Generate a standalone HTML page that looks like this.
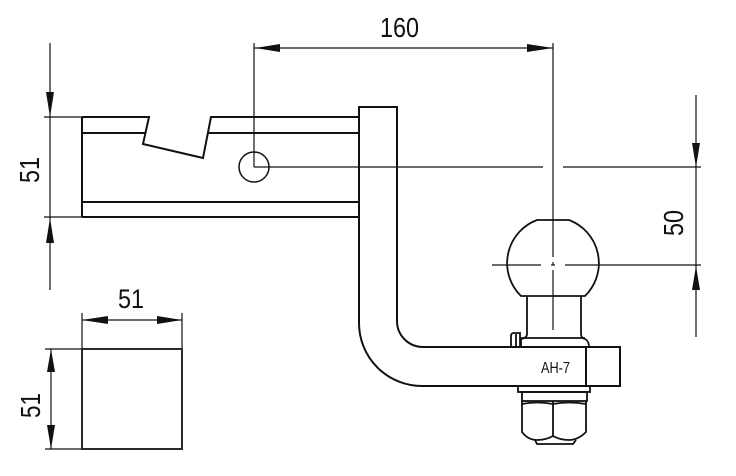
<!DOCTYPE html>
<html>
<head>
<meta charset="utf-8">
<style>
html,body{margin:0;padding:0;background:#fff;}
svg{display:block;}
text{font-family:"Liberation Sans",sans-serif;fill:#111;}
</style>
</head>
<body>
<svg width="736" height="476" viewBox="0 0 736 476" xmlns="http://www.w3.org/2000/svg">
<rect width="736" height="476" fill="#fff"/>

<!-- ===== Dimension lines (thin) ===== -->
<g stroke="#111" stroke-width="1.2" fill="none">
  <!-- left 51 dim -->
  <line x1="50" y1="43" x2="50" y2="290"/>
  <line x1="44" y1="117" x2="82" y2="117"/>
  <line x1="44" y1="217" x2="82" y2="217"/>
  <!-- top 160 dim -->
  <line x1="254" y1="48" x2="553" y2="48"/>
  <line x1="254" y1="43" x2="254" y2="167"/>
  <line x1="553" y1="43" x2="553" y2="257"/>
  <line x1="553" y1="262" x2="553" y2="265"/>
  <line x1="553" y1="270" x2="553" y2="330"/>
  <!-- horizontal through hole -->
  <line x1="254" y1="167" x2="543" y2="167"/>
  <line x1="563" y1="167" x2="701" y2="167"/>
  <!-- ball centerline -->
  <line x1="492" y1="265" x2="541" y2="265"/>
  <line x1="551" y1="265" x2="555" y2="265"/>
  <line x1="565" y1="265" x2="701" y2="265"/>
  <!-- 50 dim -->
  <line x1="696" y1="95" x2="696" y2="337"/>
  <!-- square dims -->
  <line x1="82" y1="320" x2="182" y2="320"/>
  <line x1="82" y1="313" x2="82" y2="349"/>
  <line x1="182" y1="313" x2="182" y2="349"/>
  <line x1="51" y1="349" x2="51" y2="449"/>
  <line x1="45" y1="349" x2="82" y2="349"/>
  <line x1="45" y1="449" x2="82" y2="449"/>
</g>

<!-- ===== Arrowheads ===== -->
<g fill="#111" stroke="none">
  <polygon points="50,117 46,92 54,92"/>
  <polygon points="50,218 46,243 54,243"/>
  <polygon points="255,48 280,44 280,52"/>
  <polygon points="553,48 527,44 527,52"/>
  <polygon points="696,167 692,143 700,143"/>
  <polygon points="696,266 692,290 700,290"/>
  <polygon points="82,320 108,316 108,324"/>
  <polygon points="182,320 157,316 157,324"/>
  <polygon points="51,349 47,372 55,372"/>
  <polygon points="51,449 47,425 55,425"/>
</g>

<!-- ===== Main part outlines ===== -->
<g stroke="#111" stroke-width="2" fill="none" stroke-linejoin="miter">
  <!-- square tube side view -->
  <path d="M82,117 L149,117 L143,144 L203,158 L211,117 L359,117"/>
  <line x1="82" y1="117" x2="82" y2="217"/>
  <line x1="82" y1="217" x2="359" y2="217"/>
  <line x1="82" y1="133" x2="145" y2="133"/>
  <line x1="208" y1="133" x2="359" y2="133"/>
  <line x1="82" y1="202" x2="359" y2="202"/>
  <!-- vertical + horizontal bar -->
  <path d="M359,107 L397,107 L397,321 A26,26 0 0 0 423,347 L620,347 L620,386 L423,386 A63,63 0 0 1 359,323 Z"/>
  <line x1="586" y1="347" x2="586" y2="386"/>
</g>

<!-- hole -->
<circle cx="254" cy="167" r="15" stroke="#111" stroke-width="1.5" fill="none"/>

<!-- ball & hardware -->
<g stroke="#111" stroke-width="1.8" fill="none">
  <path d="M537,220 L569,220 A46,46 0 0 1 585,296 L521,296 A46,46 0 0 1 537,220 Z"/>
  <line x1="527" y1="296" x2="527" y2="334"/>
  <line x1="581" y1="296" x2="581" y2="334"/>
  <path d="M527,334 Q527,338 521,339 L521,347"/>
  <path d="M581,334 Q581,338 585,339 Q589,341 589,347"/>
  <line x1="521" y1="338" x2="585" y2="338"/>
  <!-- pin -->
  <path d="M511,347 L511,336 Q511,333 514,333 L520,333 L520,347"/>
  <line x1="516" y1="334" x2="516" y2="347"/>
  <!-- washer / spacer / nut -->
  <rect x="518" y="386" width="72" height="6"/>
  <rect x="522" y="392" width="65" height="9"/>
  <path d="M522,401 L522,432 Q528,440 537,440 Q546,440 553,436 Q560,440 569,440 Q578,440 586,432 L586,401"/>
  <path d="M522,404 Q537,401 553,404 Q569,401 586,404"/>
  <line x1="553" y1="401" x2="553" y2="437"/>
  <path d="M535,440 L537,444 L573,444 L576,440"/>
</g>

<!-- bottom square -->
<rect x="82" y="349" width="100" height="100" stroke="#2a2a2a" stroke-width="2" fill="none"/>

<!-- ===== Texts ===== -->
<text x="380" y="37" font-size="28" textLength="39" lengthAdjust="spacingAndGlyphs">160</text>
<text transform="translate(39,183) rotate(-90)" font-size="28" textLength="26" lengthAdjust="spacingAndGlyphs">51</text>
<text transform="translate(683,236) rotate(-90)" font-size="28" textLength="26" lengthAdjust="spacingAndGlyphs">50</text>
<text x="118" y="308" font-size="27" textLength="26" lengthAdjust="spacingAndGlyphs">51</text>
<text transform="translate(40,418) rotate(-90)" font-size="28" textLength="25" lengthAdjust="spacingAndGlyphs">51</text>
<text x="541" y="373" font-size="15.5" textLength="29" lengthAdjust="spacingAndGlyphs">AH-7</text>
</svg>
</body>
</html>
